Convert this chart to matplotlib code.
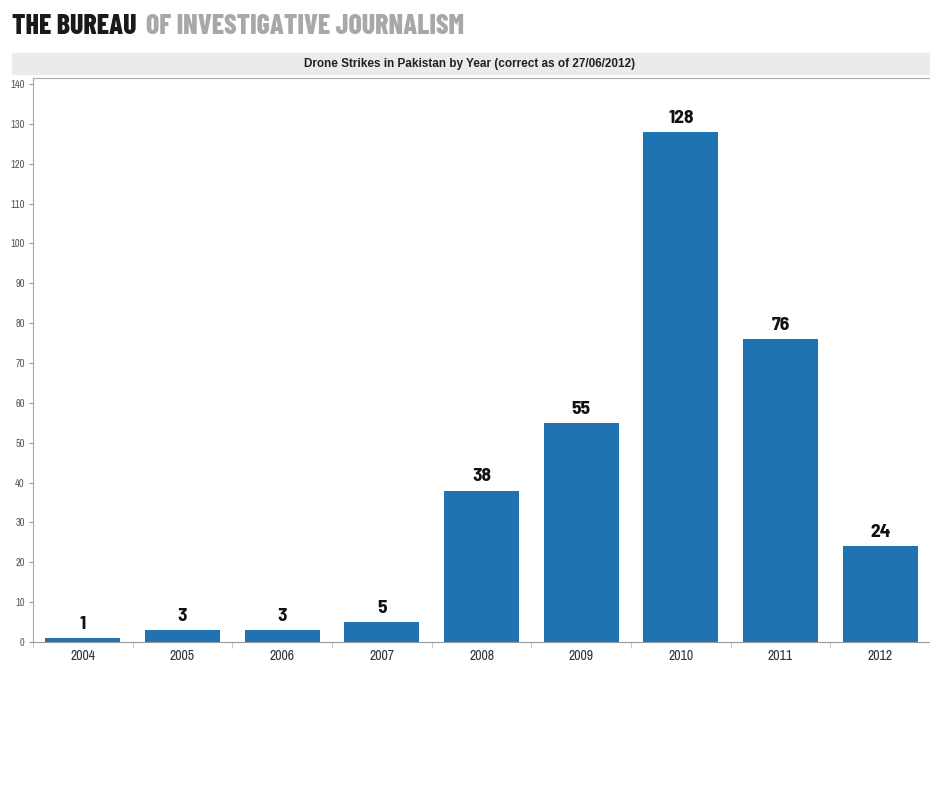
import matplotlib
matplotlib.use('Agg')
import matplotlib.pyplot as plt
import numpy as np

# data
years = ['2004', '2005', '2006', '2007', '2008', '2009', '2010', '2011', '2012']
strikes = [1, 3, 3, 5, 38, 55, 128, 76, 24]
yticks = list(range(0, 141, 10))

narrow = ['Archivo Narrow', 'Liberation Sans', 'DejaVu Sans']
label_font = ['Barlow Semi Condensed', 'Liberation Sans', 'DejaVu Sans']
logo = ['Barlow Condensed', 'DejaVu Sans']
plt.rcParams['font.family'] = ['Liberation Sans', 'DejaVu Sans']

fig = plt.figure(figsize=(9.3, 7.95), dpi=100)
fig.patch.set_facecolor('white')

# title band
band = plt.Rectangle((12 / 930, 1 - 74 / 795), 1 - 12 / 930, 21 / 795,
                     transform=fig.transFigure, color='#ebebeb', zorder=0)
fig.patches.append(band)
fig.text(470 / 930, 1 - 63.5 / 795, 'Drone Strikes in Pakistan by Year (correct as of 27/06/2012)',
         fontsize=8.5, fontweight='bold', color='#222222', ha='center', va='center')

ax = fig.add_axes([33 / 930, 1 - 642 / 795, 1 - 33 / 930, (642 - 78) / 795])
x = np.arange(len(years))
ax.bar(x, strikes, width=0.75, color='#1f73b2', zorder=2)

for xi, v in zip(x, strikes):
    ax.text(xi, v + 1.3, str(v), ha='center', va='bottom', fontsize=14,
            fontweight='bold', color='#111111', family=label_font)

ax.set_xlim(-0.5, 8.4)
ax.set_ylim(0, 141.5)
ax.set_yticks(yticks)
ax.set_yticklabels([str(t) for t in yticks], fontsize=7.5, color='#555555', family=narrow)
ax.set_xticks(x)
ax.set_xticklabels(years, fontsize=10, color='#333333', family=narrow)
ax.tick_params(axis='x', length=0, pad=5)
ax.set_xticks(np.arange(-0.5, 8.6, 1), minor=True)
ax.tick_params(axis='x', which='minor', length=4, color='#bbbbbb')
ax.tick_params(axis='y', length=3, color='#999999', pad=3)

ax.spines['right'].set_visible(False)
ax.spines['top'].set_color('#aaaaaa')
ax.spines['left'].set_color('#aaaaaa')
ax.spines['bottom'].set_color('#999999')
for s in ax.spines.values():
    s.set_linewidth(0.8)

# header logo
t1 = fig.text(12 / 930, 1 - 34 / 795, 'THE BUREAU', fontsize=20, fontweight=800,
              family=logo, color='#1a1a1a', va='baseline', ha='left')
ax.annotate('OF INVESTIGATIVE JOURNALISM', xy=(1, 0), xycoords=t1,
            xytext=(10, 0), textcoords='offset pixels', fontsize=20,
            fontweight=800, family=logo, color='#a8a8a8',
            va='bottom', ha='left', annotation_clip=False)

fig.savefig('out.png', dpi=100)
